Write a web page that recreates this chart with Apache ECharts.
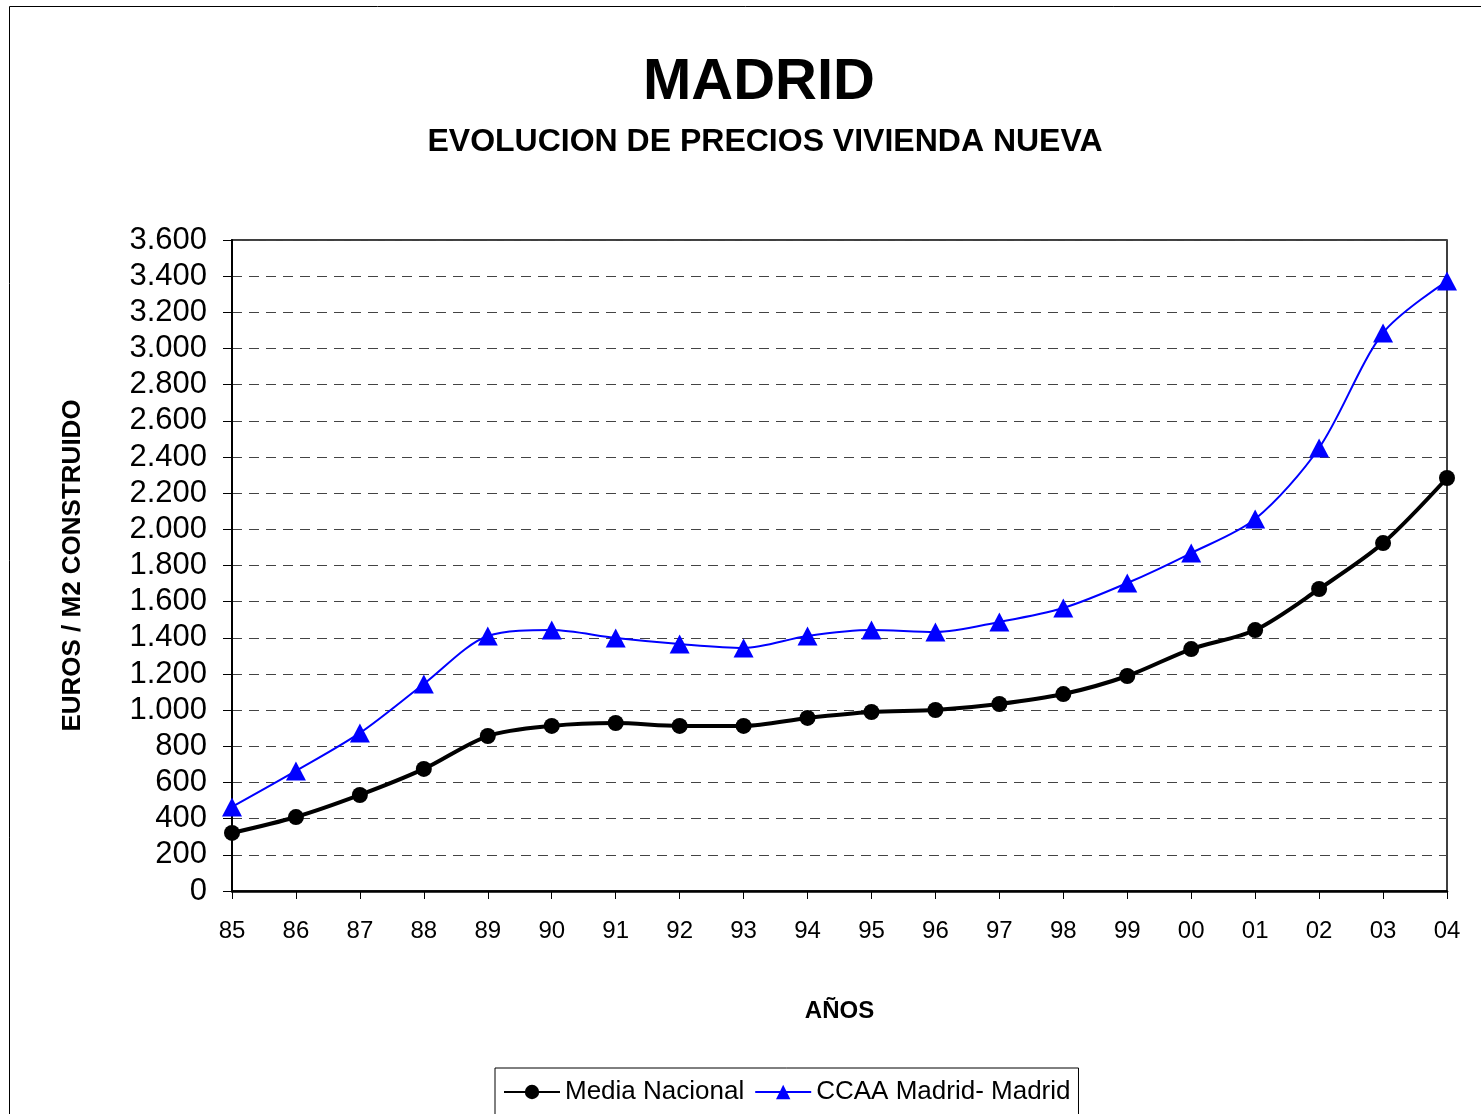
<!DOCTYPE html>
<html>
<head>
<meta charset="utf-8">
<script src="https://cdn.jsdelivr.net/npm/echarts@6/dist/echarts.min.js"></script>
<style>
  html, body { margin: 0; padding: 0; background: #fff; }
  #main { width: 1481px; height: 1114px; }
</style>
</head>
<body>
<div id="main"></div>
<script>
  // años (eje X)
  var anos = ['85', '86', '87', '88', '89', '90', '91', '92', '93', '94',
              '95', '96', '97', '98', '99', '00', '01', '02', '03', '04'];
  // euros / m2 construido
  var mediaNacional = [321, 409, 531, 675, 857, 913, 929, 913, 913, 957,
                       990, 1001, 1034, 1089, 1189, 1338, 1443, 1670, 1924, 2284];
  var ccaaMadrid = [465, 664, 874, 1145, 1410, 1443, 1399, 1366, 1344, 1410,
                    1443, 1432, 1488, 1565, 1703, 1869, 2057, 2450, 3086, 3373];

  var fuente = '"Liberation Sans", Arial, sans-serif';

  var myChart = echarts.init(document.getElementById('main'));
  myChart.setOption({
    backgroundColor: '#fff',
    animation: false,
    textStyle: { fontFamily: fuente, color: '#000' },
    title: [{
      text: 'MADRID',
      left: 754,
      top: 49,
      textAlign: 'center',
      textStyle: { fontSize: 58, fontWeight: 'bold', color: '#000', fontFamily: fuente }
    }, {
      text: 'EVOLUCION DE PRECIOS VIVIENDA NUEVA',
      left: 760,
      top: 121,
      textAlign: 'center',
      textStyle: { fontSize: 32, fontWeight: 'bold', color: '#000', fontFamily: fuente }
    }],
    graphic: [{
      type: 'rect',
      shape: { x: 9.5, y: 6.5, width: 1600, height: 1300 },
      style: { fill: 'none', stroke: '#000', lineWidth: 1 },
      silent: true
    }],
    legend: {
      left: 495,
      top: 1068,
      padding: [11, 8, 30, 8],
      borderColor: '#000',
      borderWidth: 1,
      itemWidth: 56,
      itemHeight: 18,
      itemGap: 10,
      textStyle: { fontSize: 26, color: '#000', fontFamily: fuente },
      data: ['Media Nacional', 'CCAA Madrid- Madrid']
    },
    grid: {
      left: 232,
      right: 34,
      top: 240,
      bottom: 223,
      show: true,
      borderColor: '#000',
      borderWidth: 1.5
    },
    xAxis: {
      type: 'category',
      data: anos,
      boundaryGap: false,
      name: 'AÑOS',
      nameLocation: 'middle',
      nameGap: 108,
      nameTextStyle: { fontSize: 24, fontWeight: 'bold', color: '#000', fontFamily: fuente },
      axisLine: { lineStyle: { color: '#000', width: 2.5 } },
      axisTick: { show: true, inside: false, length: 8, alignWithLabel: true, lineStyle: { color: '#000', width: 1 } },
      axisLabel: { fontSize: 24, color: '#000', margin: 28, fontFamily: fuente },
      splitLine: { show: false }
    },
    yAxis: {
      type: 'value',
      min: 0,
      max: 3600,
      interval: 200,
      name: 'EUROS / M2 CONSTRUIDO',
      nameLocation: 'middle',
      nameGap: 146,
      nameTextStyle: { fontSize: 26, fontWeight: 'bold', color: '#000', fontFamily: fuente },
      axisLine: { show: true, lineStyle: { color: '#000', width: 2 } },
      axisTick: { show: true, length: 9, lineStyle: { color: '#000', width: 1 } },
      axisLabel: {
        fontSize: 31,
        color: '#000',
        margin: 25,
        fontFamily: fuente,
        formatter: function (v) {
          return String(v).replace(/\B(?=(\d{3})+(?!\d))/g, '.');
        }
      },
      splitLine: { show: true, lineStyle: { color: '#444', width: 1, type: [10, 7] } }
    },
    series: [{
      name: 'Media Nacional',
      type: 'line',
      data: mediaNacional,
      smooth: 0.3,
      symbol: 'circle',
      symbolSize: 16,
      lineStyle: { color: '#000', width: 4 },
      itemStyle: { color: '#000' },
      z: 3
    }, {
      name: 'CCAA Madrid- Madrid',
      type: 'line',
      data: ccaaMadrid,
      smooth: 0.3,
      symbol: 'triangle',
      symbolSize: [20, 19],
      lineStyle: { color: '#0000ff', width: 2 },
      itemStyle: { color: '#0000ff' },
      z: 4
    }]
  });
</script>
</body>
</html>
